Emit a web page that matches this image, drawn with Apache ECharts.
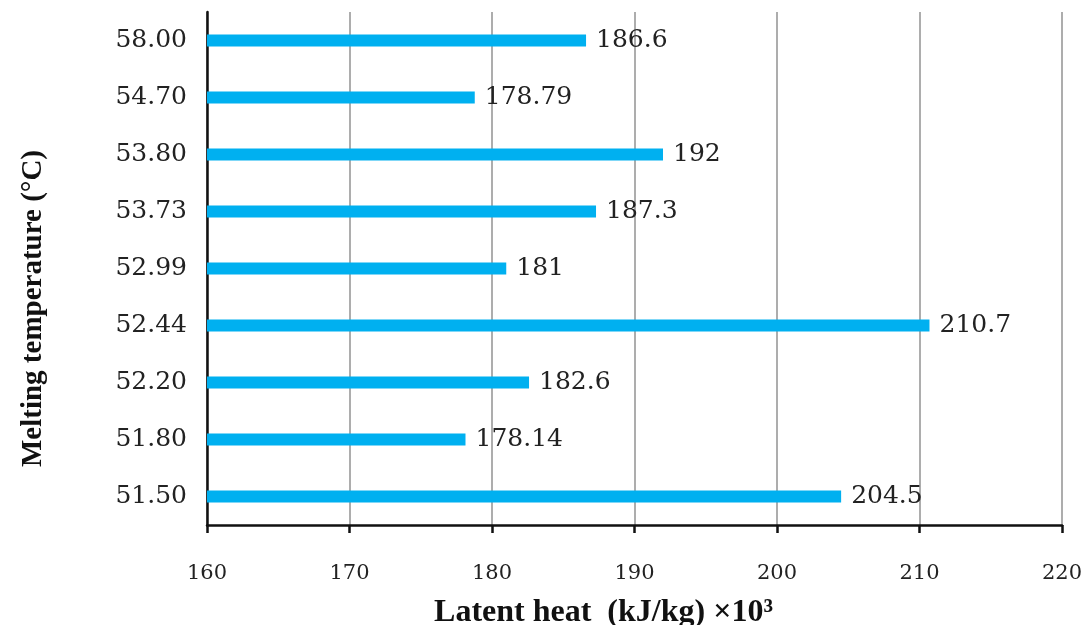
<!DOCTYPE html>
<html>
<head>
<meta charset="utf-8">
<script src="https://cdn.jsdelivr.net/npm/echarts@6/dist/echarts.min.js"></script>
<style>html,body{margin:0;padding:0;background:#fff;}#c{width:1084px;height:625px;}</style>
</head>
<body>
<div id="c"></div>
<script>
var categories = ['51.50', '51.80', '52.20', '52.44', '52.99', '53.73', '53.80', '54.70', '58.00'];
var latentHeat = [204.5, 178.14, 182.6, 210.7, 181, 187.3, 192, 178.79, 186.6];
var xTicks = [160, 170, 180, 190, 200, 210, 220];

var chart = echarts.init(document.getElementById('c'));
chart.setOption({
  animation: false,
  backgroundColor: '#fff',
  grid: { left: 207, right: 22, top: 12, bottom: 100, containLabel: false, outerBoundsMode: 'none' },
  xAxis: {
    type: 'value',
    min: xTicks[0],
    max: xTicks[xTicks.length - 1],
    interval: 10,
    name: 'Latent heat  (kJ/kg) ×10³',
    nameLocation: 'middle',
    nameGap: 72,
    nameTextStyle: { fontFamily: 'Liberation Serif', fontWeight: 'bold', fontSize: 32, color: '#111', padding: [0, 62, 0, 0] },
    axisLine: { show: true, lineStyle: { color: '#111', width: 2.5 } },
    axisTick: { show: true, inside: false, length: 8, lineStyle: { color: '#111', width: 2.5 } },
    axisLabel: { margin: 38, fontFamily: 'DejaVu Serif', fontSize: 21, color: '#222' },
    splitLine: { show: true, lineStyle: { color: '#999999', width: 1.6 } }
  },
  yAxis: {
    type: 'category',
    data: categories,
    name: 'Melting temperature (°C)',
    nameLocation: 'middle',
    nameGap: 159,
    nameRotate: 90,
    nameTextStyle: { fontFamily: 'Liberation Serif', fontWeight: 'bold', fontSize: 29, color: '#111', padding: [0, 80, 0, 0] },
    axisLine: { show: true, lineStyle: { color: '#111', width: 2.5 } },
    axisTick: { show: false },
    axisLabel: { margin: 20, fontFamily: 'DejaVu Serif', fontSize: 25, color: '#222' },
    splitLine: { show: false }
  },
  series: [{
    type: 'bar',
    data: latentHeat,
    barWidth: 12,
    itemStyle: { color: '#00B0F0' },
    label: { show: true, position: 'right', distance: 10, fontFamily: 'DejaVu Serif', fontSize: 25, color: '#222' }
  }]
});
</script>
</body>
</html>
